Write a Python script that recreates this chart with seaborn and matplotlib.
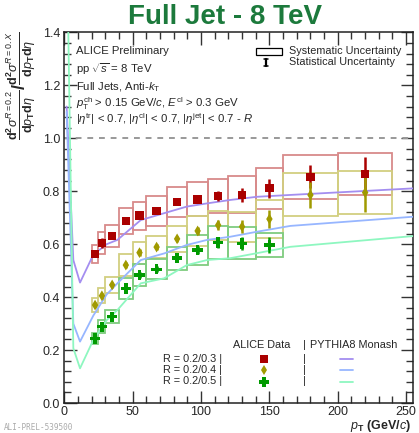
import numpy as np
import pandas as pd
import matplotlib
matplotlib.use("Agg")
import matplotlib.pyplot as plt
import seaborn as sns
from matplotlib.patches import Rectangle
from matplotlib.ticker import MultipleLocator

# ---------------- data ----------------
bin_lo = [20, 25, 30, 40, 50, 60, 75, 90, 105, 120, 140, 160, 200]
bin_hi = [25, 30, 40, 50, 60, 75, 90, 105, 120, 140, 160, 200, 240]

r03 = [0.562, 0.604, 0.631, 0.688, 0.708, 0.725, 0.760, 0.769, 0.782, 0.786, 0.811, 0.855, 0.864]
r03_stat = [0.012, 0.018, 0.012, 0.012, 0.010, 0.010, 0.012, 0.015, 0.020, 0.025, 0.036, 0.044, 0.066]
r03_sys = [0.033, 0.042, 0.041, 0.050, 0.053, 0.057, 0.056, 0.064, 0.066, 0.070, 0.078, 0.083, 0.080]

r04 = [0.370, 0.405, 0.446, 0.521, 0.568, 0.589, 0.620, 0.650, 0.672, 0.666, 0.695, 0.786, 0.795]
r04_stat = [0.010, 0.012, 0.012, 0.012, 0.012, 0.012, 0.012, 0.015, 0.020, 0.025, 0.035, 0.050, 0.075]
r04_sys = [0.025, 0.028, 0.029, 0.043, 0.042, 0.042, 0.048, 0.058, 0.055, 0.057, 0.070, 0.081, 0.080]

r05 = [0.244, 0.288, 0.326, 0.433, 0.484, 0.505, 0.547, 0.578, 0.606, 0.603, 0.597]
r05_stat = [0.012, 0.012, 0.012, 0.012, 0.012, 0.012, 0.012, 0.015, 0.020, 0.025, 0.030]
r05_sys = [0.020, 0.024, 0.025, 0.041, 0.041, 0.038, 0.044, 0.055, 0.062, 0.060, 0.044]

py_x = [1.7, 6.6, 11.5, 21.2, 31.0, 38.8, 55.9, 73.0, 89.6, 104.3, 121.3, 140.9, 165.3, 256.0]
py_r03 = [1.12, 0.54, 0.455, 0.56, 0.60, 0.616, 0.691, 0.717, 0.742, 0.754, 0.767, 0.779, 0.786, 0.811]
py_r04 = [1.10, 0.30, 0.232, 0.33, 0.41, 0.452, 0.540, 0.565, 0.597, 0.616, 0.628, 0.647, 0.669, 0.704]
py_r05 = [1.80, 0.207, 0.131, 0.238, 0.313, 0.351, 0.452, 0.471, 0.521, 0.540, 0.547, 0.566, 0.590, 0.631]

labels = ["R = 0.2/0.3", "R = 0.2/0.4", "R = 0.2/0.5"]

# ---------------- style ----------------
sns.set_style("ticks")
plt.rcParams["font.family"] = ["Liberation Sans", "DejaVu Sans"]
plt.rcParams["mathtext.fontset"] = "custom"
plt.rcParams["mathtext.rm"] = "Liberation Sans"
plt.rcParams["mathtext.it"] = "Liberation Sans:italic"
plt.rcParams["mathtext.bf"] = "Liberation Sans:bold"

W, H = 419, 433
fig = plt.figure(figsize=(W / 100, H / 100), dpi=100)
ax = fig.add_axes([64.3 / W, 1 - 403 / H, (413 - 64.3) / W, (403 - 32.4) / H])

red_c, red_box = "#aa0000", "#d88a8a"
oli_c, oli_box = "#a09a00", "#d2cf80"
grn_c, grn_box = "#009a00", "#7fcc7f"
py_cols = ["#a48ef0", "#97b6ff", "#8ef7c0"]
FS = 7.8
FS_INFO = 8.2

xc = [(a + b) / 2 for a, b in zip(bin_lo, bin_hi)]

def boxes(vals, sys, col):
    for lo, hi, v, s in zip(bin_lo, bin_hi, vals, sys):
        ax.add_patch(Rectangle((lo, v - s), hi - lo, 2 * s, fill=False,
                               edgecolor=col, linewidth=1.3, zorder=2))

boxes(r03, r03_sys, red_box)
boxes(r04, r04_sys, oli_box)
boxes(r05, r05_sys, grn_box)

# PYTHIA curves
py_df = pd.DataFrame({
    "pt": py_x * 3,
    "ratio": py_r03 + py_r04 + py_r05,
    "R": [labels[0]] * len(py_x) + [labels[1]] * len(py_x) + [labels[2]] * len(py_x),
})
sns.lineplot(data=py_df, x="pt", y="ratio", hue="R", palette=py_cols,
             linewidth=1.3, legend=False, ax=ax, sort=False, zorder=3)

# data points
n5 = len(r05)
ax.errorbar(xc, r03, yerr=r03_stat, fmt="none", ecolor=red_c, elinewidth=1.8, zorder=4)
ax.errorbar(xc, r04, yerr=r04_stat, fmt="none", ecolor=oli_c, elinewidth=1.8, zorder=4)
ax.errorbar(xc[:n5], r05, yerr=r05_stat, fmt="none", ecolor=grn_c, elinewidth=1.8, zorder=4)
df03 = pd.DataFrame({"pt": xc, "ratio": r03})
df04 = pd.DataFrame({"pt": xc, "ratio": r04})
df05 = pd.DataFrame({"pt": xc[:n5], "ratio": r05})
sns.scatterplot(data=df03, x="pt", y="ratio", marker="s", s=36, color=red_c,
                edgecolor="none", ax=ax, zorder=5)
sns.scatterplot(data=df04, x="pt", y="ratio", marker="d", s=30, color=oli_c,
                edgecolor="none", ax=ax, zorder=5)
sns.scatterplot(data=df05, x="pt", y="ratio", marker="P", s=55, color=grn_c,
                edgecolor="none", ax=ax, zorder=5)

ax.axhline(1.0, color="#999999", linestyle=(0, (3, 3)), linewidth=1.4, zorder=1)

ax.set_xlim(0, 255)
ax.set_ylim(0, 1.4)
ax.xaxis.set_major_locator(MultipleLocator(50))
ax.xaxis.set_minor_locator(MultipleLocator(10))
ax.yaxis.set_major_locator(MultipleLocator(0.2))
ax.yaxis.set_minor_locator(MultipleLocator(0.04))
ax.yaxis.set_major_formatter(matplotlib.ticker.FormatStrFormatter("%.1f"))
ax.tick_params(which="both", direction="in", top=True, right=True, labelsize=9,
               color="#333333", pad=3)
ax.tick_params(axis="x", pad=2)
ax.tick_params(which="major", length=9, width=1)
ax.tick_params(which="minor", length=5, width=1)
for sp in ax.spines.values():
    sp.set_linewidth(1.1)
    sp.set_color("#222222")
ax.set_xlabel("")
ax.set_ylabel("")

# axis labels
fig.text(411 / W, 1 - 425.5 / H, r"$\mathbf{\it{p}}_{\mathbf{T}}$ (GeV/$\it{c}$)",
         ha="right", va="center", fontsize=9, fontweight="bold")
fig.text(21 / W, 1 - 86 / H,
         r"$\frac{\mathbf{d}^{\mathbf{2}}\sigma^{R=0.2}}{\mathbf{d}p_{\mathbf{T}}\mathbf{d}\eta}\mathbf{/}"
         r"\frac{\mathbf{d}^{\mathbf{2}}\sigma^{R=0.X}}{\mathbf{d}p_{\mathbf{T}}\mathbf{d}\eta}$",
         rotation=90, ha="center", va="center", fontsize=13)

# title
fig.text(225 / W, 1 - 17 / H, "Full Jet - 8 TeV", ha="center", va="center",
         fontsize=20, fontweight="heavy", color="#1c7a3c")
fig.text(4 / W, 1 - 428 / H, "ALI-PREL-539500", ha="left", va="center",
         fontsize=5.5, color="#aaaaaa", family="DejaVu Sans Mono")

# info text
def axpos(px, py):
    return (px - 64.3) / (413 - 64.3), (403 - py) / (403 - 32.4)

info = [
    (51.5, "ALICE Preliminary"),
    (69.5, r"pp $\sqrt{s}$ = 8 TeV"),
    (87.5, r"Full Jets, Anti-$k_{\rm T}$"),
    (103.5, r"$p_{\rm T}^{\rm ch}$ > 0.15 GeV/$c$, $E^{\rm cl}$ > 0.3 GeV"),
    (119.5, r"$|\eta^{\rm tr}|$ < 0.7, $|\eta^{\rm cl}|$ < 0.7, $|\eta^{\rm jet}|$ < 0.7 - $R$"),
]
for py, t in info:
    x, y = axpos(76, py)
    ax.text(x, y, t, transform=ax.transAxes, ha="left", va="center", fontsize=FS_INFO)

# top-right uncertainty legend
x0, y0 = axpos(256, 55)
x1, y1 = axpos(282, 48)
ax.add_patch(Rectangle((x0, y0), x1 - x0, y1 - y0, transform=ax.transAxes,
                       fill=False, edgecolor="black", linewidth=0.9, clip_on=False))
x, y = axpos(289, 51.5)
ax.text(x, y, "Systematic Uncertainty", transform=ax.transAxes, ha="left", va="center", fontsize=FS)
x, y = axpos(289, 62)
ax.text(x, y, "Statistical Uncertainty", transform=ax.transAxes, ha="left", va="center", fontsize=FS)
xa, ya = axpos(266, 59)
xb, yb = axpos(266, 66)
ax.plot([xa, xb], [ya, yb], transform=ax.transAxes, color="black", lw=1.6)
for yy in (ya, yb):
    xl, _ = axpos(263.8, 0)
    xr, _ = axpos(268.2, 0)
    ax.plot([xl, xr], [yy, yy], transform=ax.transAxes, color="black", lw=1.1)

# bottom legend
x, y = axpos(262, 344.5)
ax.text(x, y, "ALICE Data", transform=ax.transAxes, ha="center", va="center", fontsize=FS)
x, y = axpos(310, 344.5)
ax.text(x, y, "PYTHIA8 Monash", transform=ax.transAxes, ha="left", va="center", fontsize=FS)
x, y = axpos(304, 344.5)
ax.text(x, y, "|", transform=ax.transAxes, ha="center", va="center", fontsize=FS)
rows_y = [358.5, 370.0, 381.5]
mk = [("s", red_c, 6), ("d", oli_c, 5.5), ("P", grn_c, 7.5)]
for lab, yy, (m, c, ms), pc in zip(labels, rows_y, mk, py_cols):
    x, y = axpos(222, yy)
    ax.text(x, y, lab + " |", transform=ax.transAxes, ha="right", va="center", fontsize=FS)
    x, y = axpos(264, yy)
    ax.plot([x], [y], marker=m, color=c, markersize=ms, transform=ax.transAxes,
            linestyle="none", markeredgewidth=0)
    x, y = axpos(304, yy)
    ax.text(x, y, "|", transform=ax.transAxes, ha="center", va="center", fontsize=FS)
    xa, y = axpos(340, yy)
    xb, _ = axpos(353, yy)
    ax.plot([xa, xb], [y, y], transform=ax.transAxes, color=pc, lw=1.3)

fig.savefig("out.png", dpi=100)
